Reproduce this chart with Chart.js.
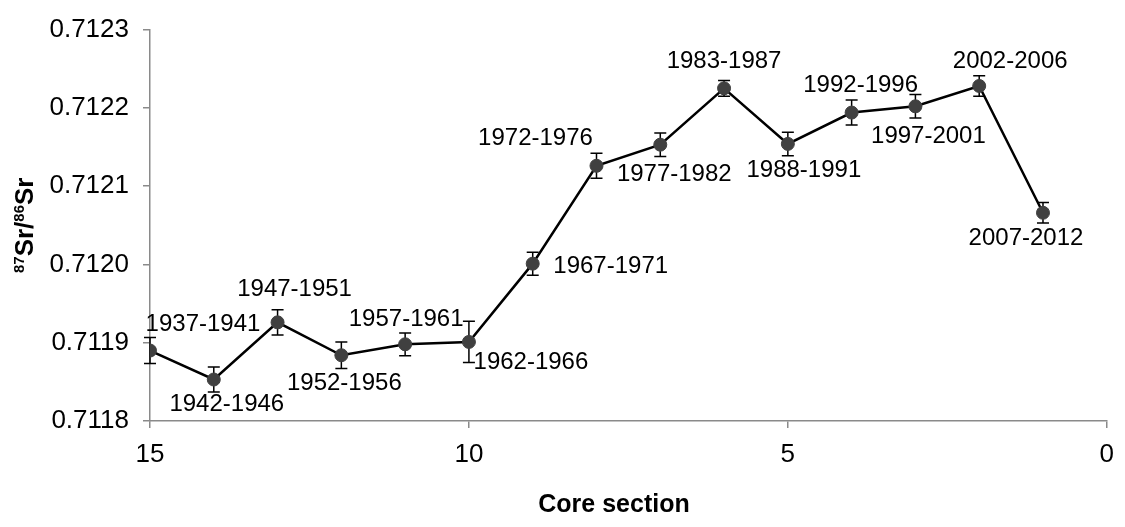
<!DOCTYPE html>
<html>
<head>
<meta charset="utf-8">
<script src="https://cdn.jsdelivr.net/npm/chart.js@4.4.1/dist/chart.umd.min.js"></script>
<style>
  html, body { margin: 0; padding: 0; background: #ffffff; }
  #wrap { width: 1125px; height: 527px; }
</style>
</head>
<body>
<div id="wrap"><canvas id="c" width="1125" height="527"></canvas></div>
<script>
// Core sections (top of core = 1) and the years each section covers
const coreSections = [15, 14, 13, 12, 11, 10, 9, 8, 7, 6, 5, 4, 3, 2, 1];
const periods = ['1937-1941', '1942-1946', '1947-1951', '1952-1956', '1957-1961',
                 '1962-1966', '1967-1971', '1972-1976', '1977-1982', '1983-1987',
                 '1988-1991', '1992-1996', '1997-2001', '2002-2006', '2007-2012'];
// 87Sr/86Sr ratio per section and its uncertainty (±)
const srRatio = [0.711890, 0.711853, 0.711926, 0.711884, 0.711898,
                 0.711901, 0.712001, 0.712126, 0.712153, 0.712225,
                 0.712154, 0.712194, 0.712202, 0.712228, 0.712066];
const srError = [0.0000167, 0.0000160, 0.0000160, 0.0000170, 0.0000145,
                 0.0000264, 0.0000147, 0.0000160, 0.0000150, 0.0000100,
                 0.0000150, 0.0000160, 0.0000150, 0.0000130, 0.0000130];
// Axis ranges and tick steps
const xRange = [0, 15];
const xStep = 5;
const yRange = [0.7118, 0.7123];
const yStep = 0.0001;

// Pixel offset of each period label's centre from its point
const labelOffsets = [[53, -26], [13, 25], [17, -33], [3, 28], [1, -25],
                      [62, 20], [78, 3], [-61, -27], [14, 30], [0, -27],
                      [16, 26], [9, -27], [13, 30], [31, -25], [-17, 26]];

const FONT = '"Liberation Sans", Arial, Helvetica, sans-serif';
const AXIS_GREY = '#8a8a8a';

const points = coreSections.map((x, i) => ({ x: x, y: srRatio[i] }));

// Vertical error bars with caps, drawn under the line and markers
const errorBars = {
  id: 'errorBars',
  beforeDatasetsDraw(chart) {
    const { ctx, scales: { x, y } } = chart;
    ctx.save();
    ctx.strokeStyle = '#000000';
    ctx.lineWidth = 1.5;
    coreSections.forEach((sec, i) => {
      const px = x.getPixelForValue(sec);
      const top = y.getPixelForValue(srRatio[i] + srError[i]);
      const bot = y.getPixelForValue(srRatio[i] - srError[i]);
      ctx.beginPath();
      ctx.moveTo(px, top); ctx.lineTo(px, bot);
      ctx.moveTo(px - 6, top); ctx.lineTo(px + 6, top);
      ctx.moveTo(px - 6, bot); ctx.lineTo(px + 6, bot);
      ctx.stroke();
    });
    ctx.restore();
  }
};

// Period labels next to each point
const periodLabels = {
  id: 'periodLabels',
  afterDatasetsDraw(chart) {
    const { ctx, scales: { x, y } } = chart;
    ctx.save();
    ctx.font = '24px ' + FONT;
    ctx.fillStyle = '#000000';
    ctx.textAlign = 'center';
    ctx.textBaseline = 'middle';
    coreSections.forEach((sec, i) => {
      const px = x.getPixelForValue(sec) + labelOffsets[i][0];
      const py = y.getPixelForValue(srRatio[i]) + labelOffsets[i][1];
      ctx.fillText(periods[i], px, py);
    });
    ctx.restore();
  }
};

// Axis titles: rotated 87Sr/86Sr with superscript mass numbers, and "Core section"
const axisTitles = {
  id: 'axisTitles',
  afterDraw(chart) {
    const { ctx, chartArea } = chart;
    const parts = [
      { t: '87', sup: true }, { t: 'Sr/', sup: false },
      { t: '86', sup: true }, { t: 'Sr', sup: false }
    ];
    const bigFont = 'bold 26px ' + FONT;
    const supFont = 'bold 15px ' + FONT;
    ctx.save();
    let total = 0;
    parts.forEach(p => {
      ctx.font = p.sup ? supFont : bigFont;
      p.w = ctx.measureText(p.t).width;
      total += p.w;
    });
    const cy = (chartArea.top + chartArea.bottom) / 2;
    ctx.translate(24, cy);
    ctx.rotate(-Math.PI / 2);
    ctx.fillStyle = '#000000';
    ctx.textBaseline = 'alphabetic';
    ctx.textAlign = 'left';
    let cx = -total / 2;
    parts.forEach(p => {
      ctx.font = p.sup ? supFont : bigFont;
      ctx.fillText(p.t, cx, p.sup ? 0 : 9);
      cx += p.w;
    });
    ctx.restore();

    ctx.save();
    ctx.font = 'bold 25px ' + FONT;
    ctx.fillStyle = '#000000';
    ctx.textAlign = 'center';
    ctx.textBaseline = 'alphabetic';
    ctx.fillText('Core section', 614, 512);
    ctx.restore();
  }
};

new Chart(document.getElementById('c'), {
  type: 'scatter',
  data: {
    datasets: [{
      data: points,
      showLine: true,
      borderColor: '#000000',
      borderWidth: 2.5,
      pointRadius: 6.5,
      pointBackgroundColor: '#404040',
      pointBorderColor: '#404040',
      pointBorderWidth: 1,
      tension: 0
    }]
  },
  options: {
    responsive: false,
    animation: false,
    devicePixelRatio: 1,
    layout: { padding: { top: 23, right: 8, left: 0, bottom: 0 } },
    plugins: {
      legend: { display: false },
      tooltip: { enabled: false },
      title: { display: false }
    },
    scales: {
      x: {
        type: 'linear',
        reverse: true,
        min: xRange[0],
        max: xRange[1],
        afterFit(scale) { scale.height = 106; },
        ticks: {
          stepSize: xStep,
          padding: 11,
          color: '#000000',
          font: { family: FONT, size: 26 },
          maxRotation: 0
        },
        grid: { drawOnChartArea: false, drawTicks: true, tickLength: 7, color: AXIS_GREY, lineWidth: 1.5 },
        border: { color: AXIS_GREY, width: 1.5 }
      },
      y: {
        type: 'linear',
        min: yRange[0],
        max: yRange[1],
        afterFit(scale) { scale.width = 150; },
        ticks: {
          stepSize: yStep,
          padding: 14,
          color: '#000000',
          font: { family: FONT, size: 26 },
          callback: v => Number(v).toFixed(4)
        },
        grid: { drawOnChartArea: false, drawTicks: true, tickLength: 7, color: AXIS_GREY, lineWidth: 1.5 },
        border: { color: AXIS_GREY, width: 1.5 }
      }
    }
  },
  plugins: [errorBars, periodLabels, axisTitles]
});
</script>
</body>
</html>
